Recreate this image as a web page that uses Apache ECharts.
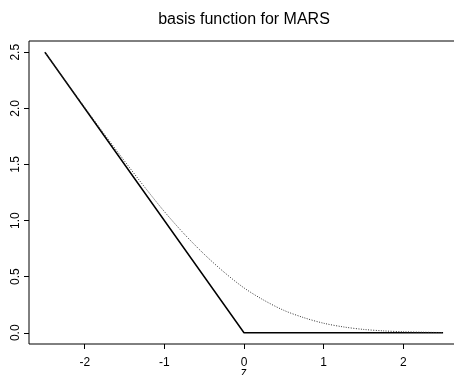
<!DOCTYPE html>
<html>
<head>
<meta charset="utf-8">
<script src="https://cdn.jsdelivr.net/npm/echarts@6/dist/echarts.min.js"></script>
<style>
  html, body { margin: 0; padding: 0; background: #fff; }
  #chart { width: 454px; height: 375px; }
</style>
</head>
<body>
<div id="chart"></div>
<script>
// hinge basis (solid) and its smooth version (dotted)
const hingeX = [-2.5, 0, 2.5]
const hingeY = [2.5, 0, 0]
const smoothX = [-2.5, -2.25, -2, -1.75, -1.5, -1.25, -1, -0.75, -0.5, -0.25, 0,
  0.25, 0.5, 0.75, 1, 1.25, 1.5, 1.75, 2, 2.25, 2.5]
const smoothY = [2.5, 2.253, 2.008, 1.766, 1.53, 1.3, 1.08, 0.88, 0.7, 0.54, 0.4,
  0.29, 0.2, 0.135, 0.085, 0.052, 0.03, 0.017, 0.009, 0.005, 0.002]
const xTicks = [-2, -1, 0, 1, 2]
const yTicks = [0, 0.5, 1, 1.5, 2, 2.5]

const font = 'Liberation Sans, Arial, sans-serif'
const pairs = (xs, ys) => xs.map((x, i) => [x, ys[i]])

const chart = echarts.init(document.getElementById('chart'))
chart.setOption({
  animation: false,
  title: {
    text: 'basis function for MARS',
    left: 244,
    top: 12,
    padding: 0,
    textAlign: 'center',
    textStyle: { fontFamily: font, fontSize: 16, fontWeight: 'normal', color: '#000' }
  },
  // x axis title sits half outside the picture, as in the original
  graphic: [
    {
      type: 'text',
      x: 244,
      y: 367,
      style: { text: 'z', font: '12px ' + font, fill: '#000', align: 'center', verticalAlign: 'top' }
    }
  ],
  grid: {
    left: 29,
    top: 41,
    width: 430,
    height: 303,
    outerBoundsMode: 'none',
    containLabel: false,
    show: true,
    borderColor: '#000',
    borderWidth: 1
  },
  xAxis: {
    type: 'value',
    min: -2.7,
    max: 2.7,
    axisLine: { show: false, onZero: false },
    splitLine: { show: false },
    axisTick: { show: true, length: 5, customValues: xTicks, lineStyle: { color: '#000' } },
    axisLabel: {
      customValues: xTicks,
      margin: 13,
      fontFamily: font,
      fontSize: 12,
      color: '#000'
    }
  },
  yAxis: {
    type: 'value',
    min: -0.1,
    max: 2.6,
    axisLine: { show: false, onZero: false },
    splitLine: { show: false },
    axisTick: { show: true, length: 5, customValues: yTicks, lineStyle: { color: '#000' } },
    axisLabel: {
      customValues: yTicks,
      rotate: 90,
      margin: 7,
      fontFamily: font,
      fontSize: 12,
      color: '#000',
      formatter: (v) => v.toFixed(1)
    }
  },
  series: [
    {
      type: 'line',
      data: pairs(hingeX, hingeY),
      symbol: 'none',
      lineStyle: { color: '#000', width: 1.5 }
    },
    {
      type: 'line',
      data: pairs(smoothX, smoothY),
      symbol: 'none',
      smooth: 0.3,
      lineStyle: { color: '#333', width: 1, type: [1, 1.5] }
    }
  ]
})
</script>
</body>
</html>
